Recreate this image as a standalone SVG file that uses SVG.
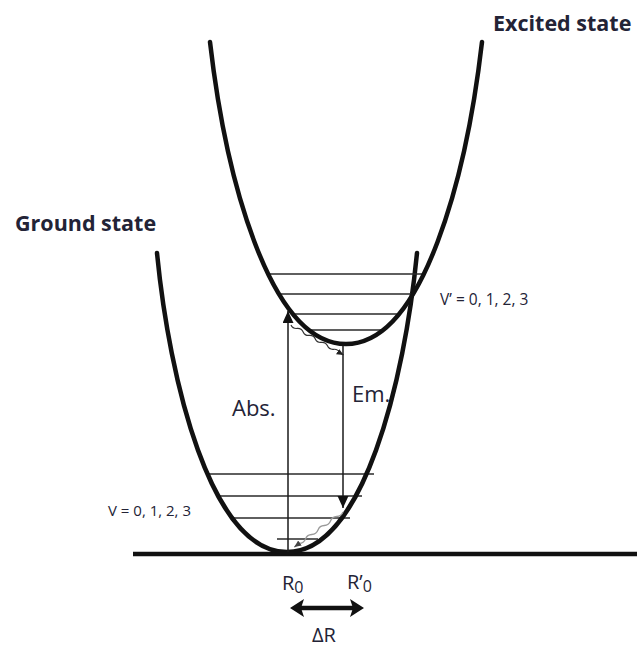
<svg xmlns="http://www.w3.org/2000/svg" width="640" height="649" viewBox="0 0 640 649">
<style>
.curve{fill:none;stroke:#111;stroke-width:4.5;stroke-linecap:round}
.lvl{stroke:#2a2a2a;stroke-width:1.6}
.tr{stroke:#1a1a1a;stroke-width:1.5;fill:none}
.lbl{font-family:"Open Sans","Liberation Sans",sans-serif;fill:#232336}
.title{font-weight:bold;font-size:21.5px}
</style>
<defs>
<marker id="big" markerUnits="userSpaceOnUse" markerWidth="12" markerHeight="12" refX="12" refY="5.5" orient="auto"><path d="M0,0 L12,5.5 L0,11 Z" fill="#111"/></marker>
<marker id="small" markerUnits="userSpaceOnUse" markerWidth="8" markerHeight="7" refX="7" refY="3" orient="auto"><path d="M0,0 L7,3 L0,6 Z" fill="#222"/></marker>
<marker id="smallg" markerUnits="userSpaceOnUse" markerWidth="8" markerHeight="7" refX="7" refY="3" orient="auto"><path d="M0,0 L7,3 L0,6 Z" fill="#444"/></marker>
</defs>
<rect width="640" height="649" fill="#fff"/>

<g id="baseline"><line x1="133" y1="554" x2="637" y2="554" stroke="#111" stroke-width="4.5"/></g>

<g id="ground-state">
<line class="lvl" x1="207" y1="474" x2="374" y2="474"/>
<line class="lvl" x1="218" y1="496" x2="362" y2="496"/>
<line class="lvl" x1="233" y1="518" x2="350" y2="518"/>
<line class="lvl" x1="277" y1="539" x2="318" y2="539"/>
<path class="curve" d="M157,253 C169.4,380 210.5,552 287,552 C363.5,552 404.6,380 417,253"/>
<text class="lbl title" x="15" y="231">Ground state</text>
<text class="lbl" x="108" y="516" font-size="15">V = 0, 1, 2, 3</text>
</g>

<g id="excited-state">
<line class="lvl" x1="268" y1="274" x2="422" y2="274"/>
<line class="lvl" x1="281" y1="294" x2="411" y2="294"/>
<line class="lvl" x1="292" y1="314" x2="399" y2="314"/>
<line class="lvl" x1="310" y1="330" x2="381" y2="330"/>
<path class="curve" d="M210,42 C225,172 268,344 346,344 C424,344 467,172 482,42"/>
<text class="lbl title" x="493" y="31">Excited state</text>
<text class="lbl" x="440" y="305" font-size="15.5">V’ = 0, 1, 2, 3</text>
</g>

<g id="connectors">
<line class="tr" x1="288" y1="552" x2="288" y2="311" marker-end="url(#big)"/>
<line class="tr" x1="343" y1="346" x2="343" y2="508" marker-end="url(#big)"/>
<path d="M291,325 q1.8,3.91 6.08,3.47 t6.08,3.47 t6.08,3.47 t6.08,3.47 t6.08,3.47 t6.08,3.47 t6.08,3.47 t6.08,3.47 l4,2.3" fill="none" stroke="#333" stroke-width="1.2" marker-end="url(#small)"/>
<path d="M343,512 q-1.67,4.28 -6.25,4.5 t-6.25,4.5 t-6.25,4.5 t-6.25,4.5 t-6.25,4.5 t-6.25,4.5 t-6.25,4.5 l-5,3.6" fill="none" stroke="#9a9a9a" stroke-width="1.3" marker-end="url(#smallg)"/>
<g id="delta-r-arrow">
<line x1="298" y1="608" x2="356" y2="608" stroke="#111" stroke-width="4.5"/>
<polygon points="290,608 304,599 301,608 304,617" fill="#111"/>
<polygon points="364,608 350,599 353,608 350,617" fill="#111"/>
</g>
</g>

<g id="labels">
<text class="lbl" x="232" y="416" font-size="22">Abs.</text>
<text class="lbl" x="352" y="402" font-size="22">Em.</text>
<text class="lbl" x="282" y="590" font-size="20">R<tspan font-size="16" dy="3">0</tspan></text>
<text class="lbl" x="347" y="589" font-size="20">R’<tspan font-size="16" dy="3">0</tspan></text>
<text class="lbl" x="312" y="642" font-size="20">ΔR</text>
</g>
</svg>
